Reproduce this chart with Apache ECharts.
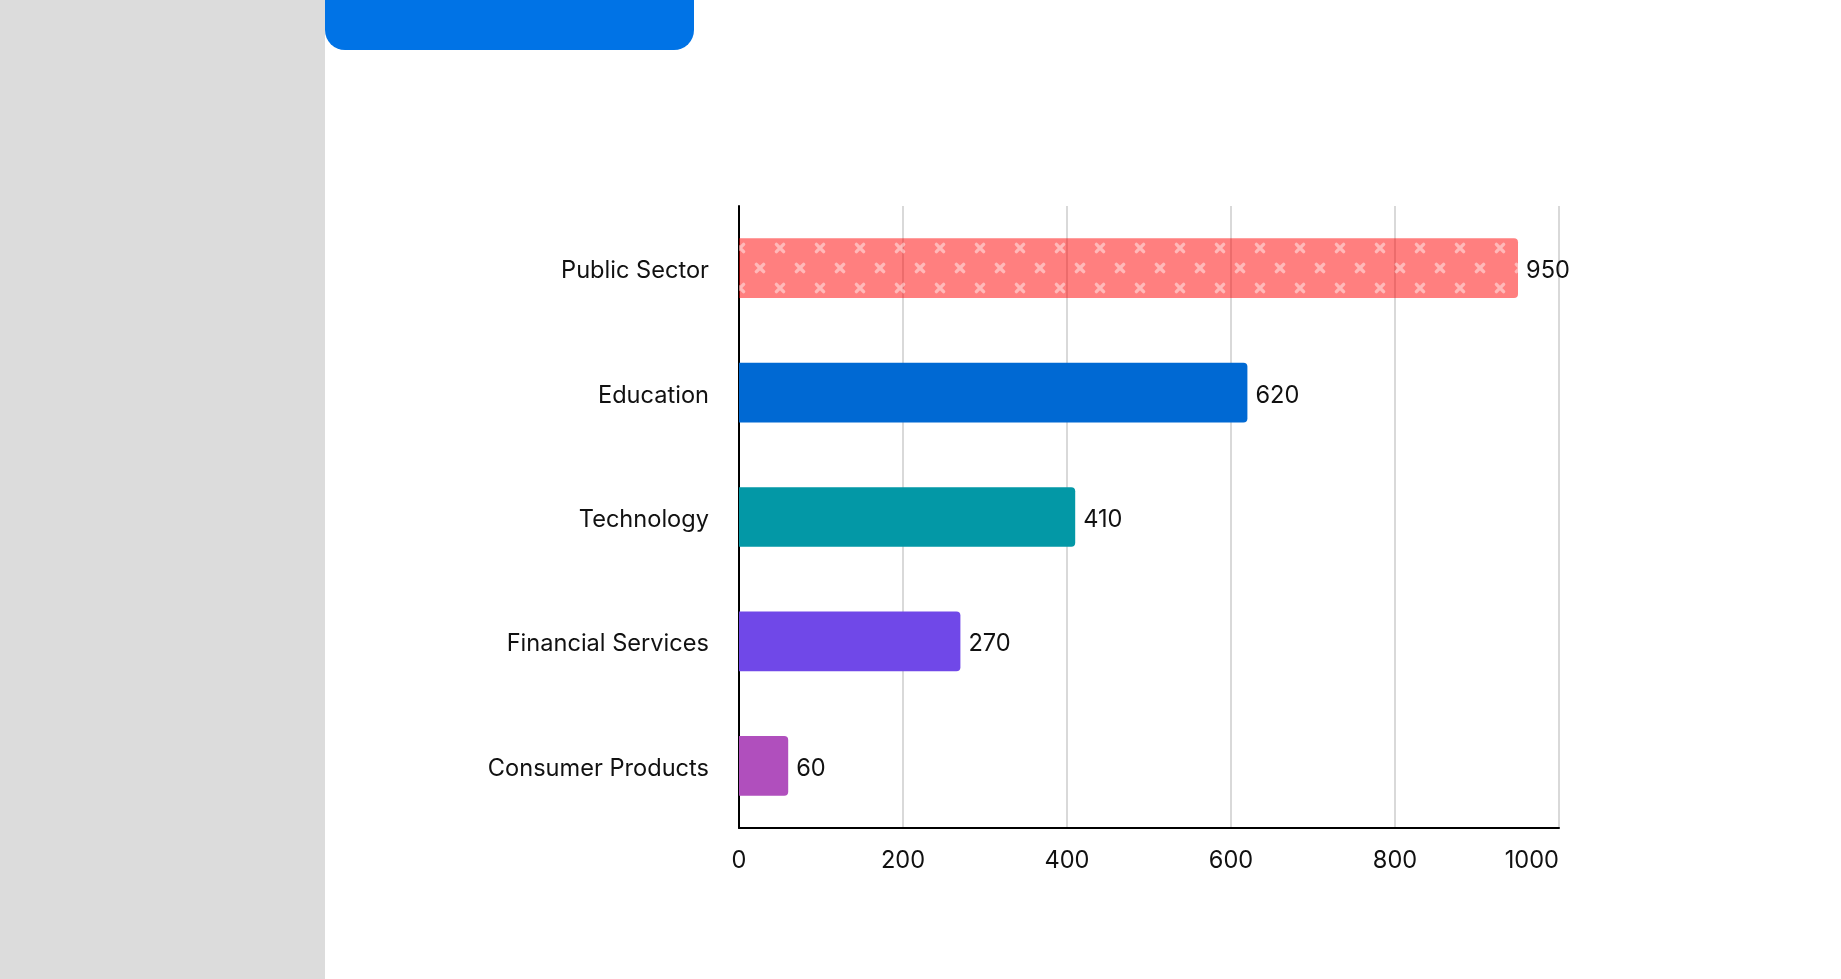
<!DOCTYPE html>
<html>
<head>
<meta charset="utf-8">
<style>
  html, body { margin: 0; padding: 0; background: #ffffff; }
  #chart { width: 1841px; height: 979px; }
</style>
<script src="https://cdn.jsdelivr.net/npm/echarts@6/dist/echarts.min.js"></script>
</head>
<body>
<div id="chart"></div>
<script>
const categories = ['Public Sector', 'Education', 'Technology', 'Financial Services', 'Consumer Products'];
const values = [950, 620, 410, 270, 60];
const barColors = ['rgba(255,0,0,0.5)', '#0069d3', '#0398a6', '#7048e8', '#b04fbd'];
const xTicks = [0, 200, 400, 600, 800, 1000];

// crossed pattern for the first bar
function makePattern() {
  const c = document.createElement('canvas');
  c.width = 40; c.height = 40;
  const ctx = c.getContext('2d');
  ctx.fillStyle = 'rgba(255,0,0,0.5)';
  ctx.fillRect(0, 0, 40, 40);
  ctx.strokeStyle = 'rgba(255,255,255,0.45)';
  ctx.lineWidth = 3.4;
  ctx.lineCap = 'round';
  const pts = [[20, 8], [20, 48], [0, 28], [40, 28]];
  pts.forEach(([x, y]) => {
    const s = 3.6;
    ctx.beginPath();
    ctx.moveTo(x - s, y - s); ctx.lineTo(x + s, y + s);
    ctx.moveTo(x + s, y - s); ctx.lineTo(x - s, y + s);
    ctx.stroke();
  });
  return c;
}

const chart = echarts.init(document.getElementById('chart'), null, { renderer: 'canvas' });
const pattern = makePattern();

const richT = { t: { color: '#111', fontSize: 23.6, fontFamily: 'Inter', padding: [6, 0, 0, 0] } };

const option = {
  animation: false,
  backgroundColor: '#ffffff',
  textStyle: { fontFamily: 'Inter' },
  graphic: [
    { type: 'rect', left: 0, top: 0, z: -10,
      shape: { x: 0, y: 0, width: 325, height: 979 },
      style: { fill: '#dcdcdc' } },
    { type: 'rect', z: -10,
      shape: { x: 325, y: -30, width: 369, height: 80, r: [0, 0, 20, 20] },
      style: { fill: '#0073e6' } }
  ],
  grid: { left: 739, right: 282, top: 206, bottom: 151, containLabel: false },
  xAxis: {
    type: 'value', min: xTicks[0], max: xTicks[xTicks.length - 1], interval: 200,
    axisLine: { show: true, lineStyle: { color: '#000', width: 2 } },
    axisTick: { show: false },
    splitLine: { show: true, lineStyle: { color: '#d9d9d9', width: 2 } },
    axisLabel: { color: '#111', fontSize: 23.6, fontFamily: 'Inter', margin: 21,
      alignMaxLabel: 'right',
      formatter: v => String(v) }
  },
  yAxis: {
    type: 'category', data: categories, inverse: true,
    axisLine: { show: true, lineStyle: { color: '#000', width: 2 } },
    axisTick: { show: false },
    axisLabel: { color: '#111', fontSize: 23.6, fontFamily: 'Inter', margin: 30,
      formatter: v => '{t|' + v + '}', rich: richT }
  },
  series: [{
    type: 'bar',
    barWidth: '48%',
    data: values.map((v, i) => ({
      value: v,
      itemStyle: { color: i === 0 ? { image: pattern, repeat: 'repeat' } : barColors[i] }
    })),
    itemStyle: { borderRadius: [0, 4, 4, 0] },
    label: { show: true, position: 'right', distance: 8, color: '#111', fontSize: 23.6,
      fontFamily: 'Inter', formatter: p => '{t|' + p.value + '}', rich: richT }
  }]
};
chart.setOption(option);
</script>
</body>
</html>
